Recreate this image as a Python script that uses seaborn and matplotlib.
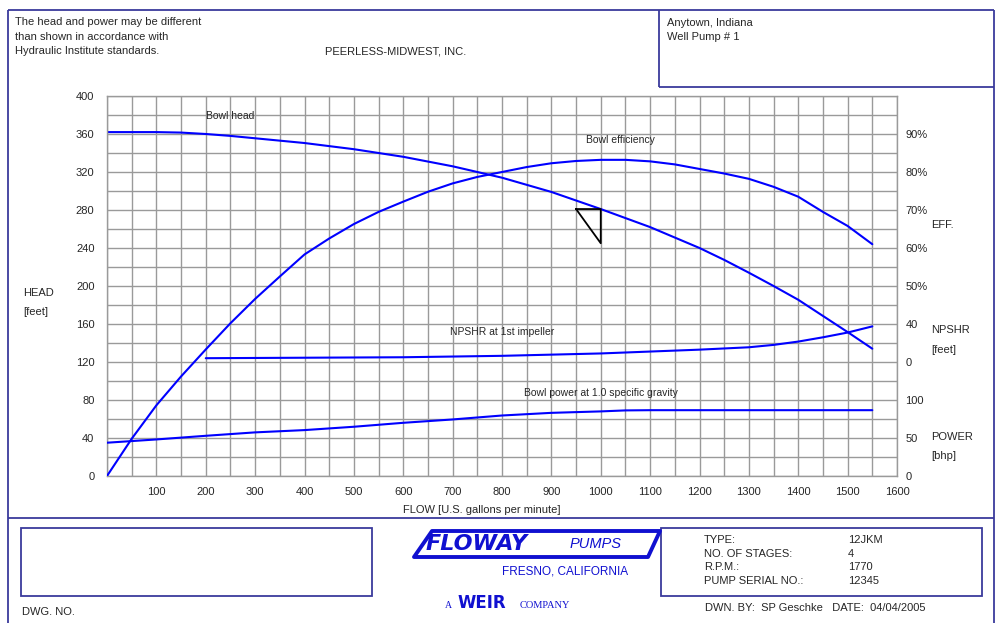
import matplotlib
matplotlib.use("Agg")
import matplotlib.pyplot as plt
import seaborn as sns
from matplotlib.patches import Polygon, Rectangle

# ---------------- data ----------------
head_flow = [0, 100, 150, 200, 250, 300, 400, 500, 600, 700, 800, 900, 1000,
             1100, 1200, 1250, 1300, 1350, 1400, 1450, 1500, 1550]
head_ft = [362, 362, 361.5, 360, 358, 355.5, 350.5, 344, 336, 326, 314, 299, 281,
           262, 240, 227.5, 214, 200, 185.5, 168.5, 151.5, 134]

eff_flow = [0, 50, 100, 150, 200, 250, 300, 350, 400, 450, 500, 550, 600, 650,
            700, 750, 800, 850, 900, 950, 1000, 1050, 1100, 1150, 1200, 1250,
            1300, 1350, 1400, 1450, 1500, 1550]
eff_pct = [0, 9.8, 18.6, 26.2, 33.3, 40.2, 46.6, 52.5, 58.3, 62.5, 66.3, 69.5,
           72.2, 74.8, 77.0, 78.7, 80.0, 81.3, 82.3, 82.9, 83.2, 83.2, 82.8, 82.0,
           80.8, 79.6, 78.2, 76.1, 73.5, 69.5, 65.8, 61.0]

npsh_flow = [200, 400, 600, 800, 1000, 1100, 1200, 1300, 1350, 1400, 1450, 1500, 1550]
npsh_ft = [4, 4.5, 5, 6.5, 9, 11, 13, 15.5, 18, 21.5, 26, 31, 37.5]

power_flow = [0, 100, 200, 300, 400, 500, 600, 700, 800, 900, 1000, 1050, 1100, 1550]
power_bhp = [43.8, 48.1, 52.9, 57.4, 60.4, 64.8, 70.0, 74.4, 79.6, 83.1, 85.0,
             86.3, 86.6, 86.6]

duty_flow = 1000
duty_head = 281

x_ticks = [100, 200, 300, 400, 500, 600, 700, 800, 900, 1000, 1100, 1200,
           1300, 1400, 1500, 1600]
head_ticks = [0, 40, 80, 120, 160, 200, 240, 280, 320, 360, 400]
eff_ticks = [50, 60, 70, 80, 90]
npsh_ticks = [0, 40]
power_ticks = [0, 50, 100]

type_labels = ["TYPE:", "NO. OF STAGES:", "R.P.M.:", "PUMP SERIAL NO.:"]
type_values = ["12JKM", "4", "1770", "12345"]

# ---------------- style ----------------
sns.set_style("white")
plt.rcParams['font.family'] = ['Liberation Sans', 'DejaVu Sans']

W, H = 998, 623
FRAME = '#3a3a9c'
GRID = '#9a9a9a'
BLUE = '#0000ff'
LOGO = '#1010d0'
FS = 8
LW = 1.5

fig = plt.figure(figsize=(W / 100, H / 100), dpi=100)
fig.patch.set_facecolor('white')

# background / title-block overlay in pixel coordinates
bg = fig.add_axes([0, 0, 1, 1])
bg.set_xlim(0, W)
bg.set_ylim(H, 0)
bg.axis('off')

def seg(x0, y0, x1, y1, lw=1.3, color=FRAME):
    bg.plot([x0, x1], [y0, y1], color=color, lw=lw, solid_capstyle='butt')

# outer frame
seg(8, 10, 994, 10)
seg(8, 10, 8, H)
seg(994, 10, 994, H)
seg(8, 518, 994, 518)
# top-right box
seg(659, 10, 659, 87)
seg(659, 87, 994, 87)
# bottom boxes
bg.add_patch(Rectangle((21, 528), 351, 68, fill=False, ec=FRAME, lw=1.3))
bg.add_patch(Rectangle((661, 528), 321, 68, fill=False, ec=FRAME, lw=1.3))

# header texts
for i, t in enumerate(["The head and power may be different",
                       "than shown in accordance with",
                       "Hydraulic Institute standards."]):
    bg.text(15, 22 + i * 14.5, t, fontsize=FS, va='center', ha='left')
bg.text(325, 51, "PEERLESS-MIDWEST, INC.", fontsize=FS, va='center')
bg.text(667, 23, "Anytown, Indiana", fontsize=FS, va='center')
bg.text(667, 37, "Well Pump # 1", fontsize=FS, va='center')

# axis captions
bg.text(23, 293, "HEAD", fontsize=FS, va='center')
bg.text(23, 312, "[feet]", fontsize=FS, va='center')
bg.text(931, 225, "EFF.", fontsize=FS, va='center')
bg.text(931, 330, "NPSHR", fontsize=FS, va='center')
bg.text(931, 350, "[feet]", fontsize=FS, va='center')
bg.text(931, 437, "POWER", fontsize=FS, va='center')
bg.text(931, 456, "[bhp]", fontsize=FS, va='center')
bg.text(403, 510, "FLOW [U.S. gallons per minute]", fontsize=FS, va='center')

# title block texts
for i, (lab, val) in enumerate(zip(type_labels, type_values)):
    y = 540 + i * 13.7
    bg.text(704, y, lab, fontsize=FS, va='center')
    bg.text(848, y, val, fontsize=FS, va='center')
bg.text(22, 612, "DWG. NO.", fontsize=FS, va='center')
bg.text(705, 608, "DWN. BY:  SP Geschke   DATE:  04/04/2005", fontsize=FS, va='center')

# logo (approximation)
bg.add_patch(Polygon([(432, 531), (660, 531), (648, 557), (414, 557)],
                     closed=True, fill=False, ec=LOGO, lw=2.8, joinstyle='round'))
bg.text(426, 544, "FLOWAY", fontsize=16, fontweight='heavy', style='italic',
        color=LOGO, va='center', ha='left', family=['DejaVu Sans'])
bg.text(570, 544, "PUMPS", fontsize=10.5, style='italic', color=LOGO,
        va='center', ha='left')
bg.text(502, 572, "FRESNO, CALIFORNIA", fontsize=8.5, color=LOGO, va='center')
bg.text(445, 605, "A", fontsize=7, color=LOGO, va='center', family=['Liberation Serif'])
bg.text(458, 603, "WEIR", fontsize=12, fontweight='heavy', color=LOGO,
        va='center', family=['DejaVu Sans'])
bg.text(520, 605, "COMPANY", fontsize=7.5, color=LOGO, va='center',
        family=['Liberation Serif'])

# ---------------- main chart ----------------
ax = fig.add_axes([107 / W, 1 - 476 / H, 790 / W, 380 / H])
ax.set_facecolor('white')
ax.set_xlim(0, 1600)
ax.set_ylim(0, 400)
ax.set_xticks(x_ticks)
ax.set_xticklabels([str(v) for v in x_ticks])
ax.set_xticks(list(range(0, 1601, 50)), minor=True)
ax.set_yticks(head_ticks)
ax.set_yticklabels([str(v) for v in head_ticks])
ax.set_yticks(list(range(0, 401, 20)), minor=True)
ax.grid(True, which='both', color=GRID, lw=1.0)
ax.set_axisbelow(True)
ax.tick_params(which='both', length=0)
ax.tick_params(axis='x', pad=8, labelsize=FS)
ax.tick_params(axis='y', pad=9, labelsize=FS)
for s in ax.spines.values():
    s.set_color(GRID)
    s.set_linewidth(1.0)

sns.lineplot(x=head_flow, y=head_ft, ax=ax, color=BLUE, lw=LW,
             sort=False, estimator=None)
ax.plot([duty_flow - 50, duty_flow, duty_flow, duty_flow - 50],
        [duty_head, duty_head, duty_head - 36, duty_head],
        color='black', lw=1.3, zorder=5)

def twin(lim, ticks, labels):
    t = ax.twinx()
    t.set_ylim(*lim)
    t.set_yticks(ticks)
    t.set_yticklabels(labels)
    t.tick_params(axis='y', length=0, pad=6, labelsize=FS)
    for s in t.spines.values():
        s.set_visible(False)
    t.grid(False)
    return t

ax_e = twin((0, 100), eff_ticks, [f"{v}%" for v in eff_ticks])
sns.lineplot(x=eff_flow, y=eff_pct, ax=ax_e, color=BLUE, lw=LW,
             sort=False, estimator=None)

ax_n = twin((-120, 280), npsh_ticks, [str(v) for v in npsh_ticks])
sns.lineplot(x=npsh_flow, y=npsh_ft, ax=ax_n, color=BLUE, lw=LW,
             sort=False, estimator=None)

ax_p = twin((0, 500), power_ticks, [str(v) for v in power_ticks])
sns.lineplot(x=power_flow, y=power_bhp, ax=ax_p, color=BLUE, lw=LW,
             sort=False, estimator=None)

for a in (ax_e, ax_n, ax_p):
    a.set_xlim(0, 1600)

# curve labels
ax.text(249, 379, "Bowl head", fontsize=7.5, ha='center', va='center')
ax.text(1040, 354, "Bowl efficiency", fontsize=7.5, ha='center', va='center')
ax.text(800, 152, "NPSHR at 1st impeller", fontsize=7.5, ha='center', va='center')
ax.text(1000, 87, "Bowl power at 1.0 specific gravity", fontsize=7.5,
        ha='center', va='center')

fig.savefig("out.png", dpi=100)
